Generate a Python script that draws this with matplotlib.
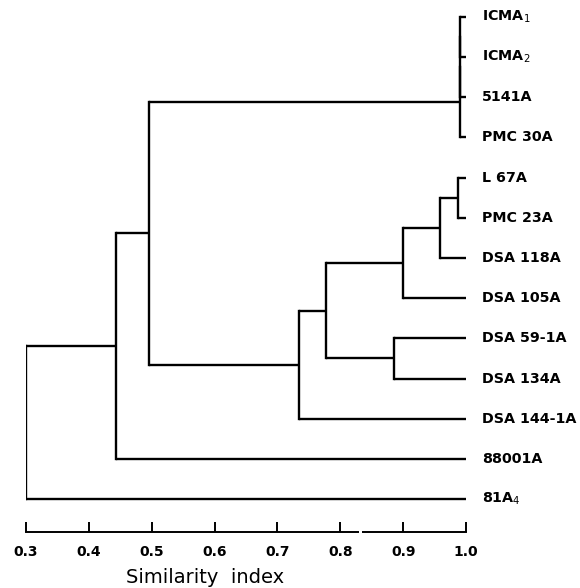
import matplotlib.pyplot as plt

# leaf labels, top to bottom
labels = ['ICMA$_1$', 'ICMA$_2$', '5141A', 'PMC 30A', 'L 67A', 'PMC 23A',
          'DSA 118A', 'DSA 105A', 'DSA 59-1A', 'DSA 134A', 'DSA 144-1A',
          '88001A', '81A$_4$']

# merges (scipy style): cluster ids 0..12 are leaves, 13.. new clusters
merge_a = [0, 13, 14, 4, 16, 17, 8, 18, 20, 15, 22, 23]
merge_b = [1, 2, 3, 5, 6, 7, 9, 19, 10, 21, 11, 12]
merge_h = [0.99, 0.99, 0.99, 0.987, 0.958, 0.90, 0.885, 0.778, 0.734, 0.495, 0.443, 0.30]

ticks = [0.3, 0.4, 0.5, 0.6, 0.7, 0.8, 0.9, 1.0]
tick_labels = ['0.3', '0.4', '0.5', '0.6', '0.7', '0.8', '0.9', '1.0']

fig = plt.figure(figsize=(5.8, 5.88), dpi=100)
ax = fig.add_axes([26 / 580, 56 / 588, 440 / 580, 532 / 588])
ax.set_xlim(0.3, 1.0)
ax.set_ylim(12.82, -0.42)

# node positions (x = similarity, y = leaf row)
pos_x = [1.0] * len(labels)
pos_y = list(range(len(labels)))

lw = 1.7
for a, b, h in zip(merge_a, merge_b, merge_h):
    ya, yb = pos_y[a], pos_y[b]
    ax.plot([h, h], [ya, yb], color='black', lw=lw, solid_capstyle='projecting')
    ax.plot([h, pos_x[a]], [ya, ya], color='black', lw=lw, solid_capstyle='butt')
    ax.plot([h, pos_x[b]], [yb, yb], color='black', lw=lw, solid_capstyle='butt')
    pos_x.append(h)
    pos_y.append((ya + yb) / 2)

# leaf labels
for i, lab in enumerate(labels):
    ax.text(1.0 + 0.025, i, lab, fontsize=10.3, fontweight='bold',
            va='center', ha='left', clip_on=False)

# axis: bottom spine only, ticks pointing up
for s in ['top', 'right', 'left']:
    ax.spines[s].set_visible(False)
ax.spines['bottom'].set_bounds(0.3, 1.0)
ax.spines['bottom'].set_linewidth(1.4)
ax.set_yticks([])
ax.set_xticks(ticks)
ax.set_xticklabels(tick_labels, fontsize=10, fontweight='bold')
ax.tick_params(axis='x', direction='in', length=7, width=1.4, pad=9)

# small break in the axis line
ax.plot([0.829, 0.835], [12.82, 12.82], color='white', lw=3, clip_on=False,
        solid_capstyle='butt', zorder=5)

ax.set_xlabel('Similarity  index', fontsize=14, va='center')
ax.xaxis.set_label_coords(0.407, -0.086)

fig.savefig('out.png', dpi=100)
